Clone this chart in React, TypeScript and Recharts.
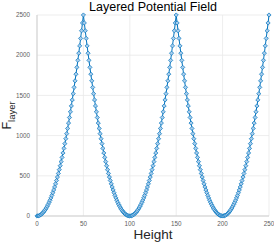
import React from "react";
import { LineChart, Line, XAxis, YAxis, CartesianGrid } from "recharts";

const heights: number[] = [
  0,1,2,3,4,5,6,7,8,9,10,11,12,13,14,15,16,17,18,19,20,21,22,23,24,25,26,27,28,29,30,31,32,33,34,35,36,37,38,39,40,41,42,43,44,45,46,47,48,49,
  50,51,52,53,54,55,56,57,58,59,60,61,62,63,64,65,66,67,68,69,70,71,72,73,74,75,76,77,78,79,80,81,82,83,84,85,86,87,88,89,90,91,92,93,94,95,96,97,98,99,
  100,101,102,103,104,105,106,107,108,109,110,111,112,113,114,115,116,117,118,119,120,121,122,123,124,125,126,127,128,129,130,131,132,133,134,135,136,137,138,139,140,141,142,143,144,145,146,147,148,149,
  150,151,152,153,154,155,156,157,158,159,160,161,162,163,164,165,166,167,168,169,170,171,172,173,174,175,176,177,178,179,180,181,182,183,184,185,186,187,188,189,190,191,192,193,194,195,196,197,198,199,
  200,201,202,203,204,205,206,207,208,209,210,211,212,213,214,215,216,217,218,219,220,221,222,223,224,225,226,227,228,229,230,231,232,233,234,235,236,237,238,239,240,241,242,243,244,245,246,247,248,249,250
];

const fLayer: number[] = [
  0,1,4,9,16,25,36,49,64,81,100,121,144,169,196,225,256,289,324,361,400,441,484,529,576,625,676,729,784,841,900,961,1024,1089,1156,1225,1296,1369,1444,1521,1600,1681,1764,1849,1936,2025,2116,2209,2304,2401,
  2500,2401,2304,2209,2116,2025,1936,1849,1764,1681,1600,1521,1444,1369,1296,1225,1156,1089,1024,961,900,841,784,729,676,625,576,529,484,441,400,361,324,289,256,225,196,169,144,121,100,81,64,49,36,25,16,9,4,1,
  0,1,4,9,16,25,36,49,64,81,100,121,144,169,196,225,256,289,324,361,400,441,484,529,576,625,676,729,784,841,900,961,1024,1089,1156,1225,1296,1369,1444,1521,1600,1681,1764,1849,1936,2025,2116,2209,2304,2401,
  2500,2401,2304,2209,2116,2025,1936,1849,1764,1681,1600,1521,1444,1369,1296,1225,1156,1089,1024,961,900,841,784,729,676,625,576,529,484,441,400,361,324,289,256,225,196,169,144,121,100,81,64,49,36,25,16,9,4,1,
  0,1,4,9,16,25,36,49,64,81,100,121,144,169,196,225,256,289,324,361,400,441,484,529,576,625,676,729,784,841,900,961,1024,1089,1156,1225,1296,1369,1444,1521,1600,1681,1764,1849,1936,2025,2116,2209,2304,2401,2500
];

const xTicks: number[] = [0, 50, 100, 150, 200, 250];
const yTicks: number[] = [0, 500, 1000, 1500, 2000, 2500];

const data = heights.map((h, i) => ({ h, f: fLayer[i] }));

const BLUE = "#0072BD";
const FONT = "'Liberation Sans', Arial, Helvetica, sans-serif";

const renderDot = (props: any) => {
  const { cx, cy, index } = props;
  if (cx == null || cy == null) return <g key={"d" + index} />;
  const r = 2.1;
  return (
    <path
      key={"d" + index}
      d={`M${cx},${cy - r}L${cx + r},${cy}L${cx},${cy + r}L${cx - r},${cy}Z`}
      fill="#a9cdec"
      stroke={BLUE}
      strokeWidth={0.7}
    />
  );
};

const YLabel = (props: any) => {
  const { viewBox } = props;
  const cy = viewBox.y + viewBox.height / 2;
  const x = 11;
  return (
    <text
      x={0}
      y={0}
      transform={`translate(${x},${cy}) rotate(-90)`}
      textAnchor="middle"
      fontFamily={FONT}
      fill="#262626"
    >
      <tspan fontSize={12.5}>F</tspan>
      <tspan fontSize={9.5} dy={4}>layer</tspan>
    </text>
  );
};

export default function App() {
  return (
    <div style={{ position: "absolute", left: 0, top: 0, width: 274, height: 244, background: "#fff" }}>
      <div
        style={{
          position: "absolute",
          left: 37,
          width: 232,
          top: 0,
          textAlign: "center",
          fontFamily: FONT,
          fontSize: 12.5,
          color: "#000",
          lineHeight: "14px",
          whiteSpace: "nowrap",
        }}
      >
        Layered Potential Field
      </div>
      <div
        style={{
          position: "absolute",
          left: 37,
          width: 232,
          top: 227,
          textAlign: "center",
          fontFamily: FONT,
          fontSize: 13.5,
          color: "#262626",
          lineHeight: "16px",
        }}
      >
        Height
      </div>
      <LineChart
        width={274}
        height={244}
        data={data}
        margin={{ top: 15, right: 5, bottom: 0, left: 0 }}
      >
        <CartesianGrid stroke="#e8e8e8" strokeWidth={0.8} vertical={true} horizontal={true} />
        <XAxis
          dataKey="h"
          type="number"
          domain={[0, 250]}
          ticks={xTicks}
          height={28}
          tickLine={false}
          axisLine={{ stroke: "#c8c8c8", strokeWidth: 0.8 }}
          tick={{ fontSize: 6.3, fill: "#606060", fontFamily: FONT }}
          tickMargin={0}
          interval={0}
        />
        <YAxis
          type="number"
          domain={[0, 2500]}
          ticks={yTicks}
          width={37}
          tickLine={false}
          axisLine={{ stroke: "#c8c8c8", strokeWidth: 0.8 }}
          tick={{ fontSize: 6.3, fill: "#606060", fontFamily: FONT }}
          tickMargin={1}
          interval={0}
          label={<YLabel />}
        />
        <Line
          dataKey="f"
          stroke={BLUE}
          strokeWidth={1}
          dot={renderDot}
          isAnimationActive={false}
        />
      </LineChart>
    </div>
  );
}
